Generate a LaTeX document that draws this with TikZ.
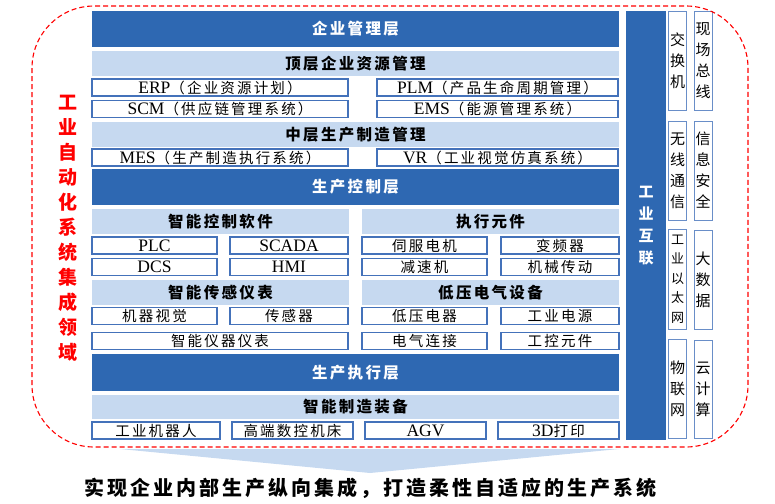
\documentclass[tikz,border=0pt]{standalone}
\usepackage{fontspec}
\setmainfont{Noto Sans CJK SC}[LetterSpace=15]
\newfontfamily\tnr{Liberation Serif}
\newcommand{\eng}[1]{{\tnr\fontsize{17.5}{17.5}\selectfont #1}}
\definecolor{darkblue}{RGB}{46,104,178}
\definecolor{lightblue}{RGB}{198,217,240}
\definecolor{boxblue}{RGB}{68,114,186}

\begin{document}
\begin{tikzpicture}[x=1pt,y=-1pt]
  \tikzset{
    band/.style={fill=darkblue,text=white,inner sep=0pt,minimum width=527pt,minimum height=36pt,font=\bfseries\fontsize{15.5}{16}\selectfont},
    head/.style={fill=lightblue,inner sep=0pt,minimum height=25pt,font=\bfseries\fontsize{15.5}{16}\selectfont},
    item/.style={draw=boxblue,fill=white,line width=1.2pt,inner sep=0pt,minimum height=17pt,font=\fontsize{14.5}{16}\selectfont},
    side/.style={draw=boxblue!80,fill=white,line width=1pt,inner sep=0pt,minimum width=18pt,align=center,font=\fontsize{15}{21}\selectfont},
  }
\useasboundingbox (0,0) rectangle (775,503);
% enterprise management
\node[band] (entlayer) at (355.5,29) {企业管理层};
\node[head,minimum width=527pt] (tophead) at (355.5,63.5) {顶层企业资源管理};
\node[item,minimum width=256pt] (erp) at (220,87.5) {\eng{ERP}（企业资源计划）};
\node[item,minimum width=241pt] (plm) at (497.5,87.5) {\eng{PLM}（产品生命周期管理）};
\node[item,minimum width=256pt] (scm) at (220,109) {\eng{SCM}（供应链管理系统）};
\node[item,minimum width=241pt] (ems) at (497.5,109) {\eng{EMS}（能源管理系统）};
\node[head,minimum width=527pt] (midhead) at (355.5,134.5) {中层生产制造管理};
\node[item,minimum width=256pt] (mes) at (220,157.5) {\eng{MES}（生产制造执行系统）};
\node[item,minimum width=241pt] (vr) at (497.5,157.5) {\eng{VR}（工业视觉仿真系统）};
% production control
\node[band] (ctrllayer) at (355.5,187) {生产控制层};
\node[head,minimum width=257pt] (softhead) at (220.5,221.5) {智能控制软件};
\node[head,minimum width=257pt] (acthead) at (490.5,221.5) {执行元件};
\node[item,minimum width=125pt] (plc) at (154.5,245.5) {\eng{PLC}};
\node[item,minimum width=118pt] (scada) at (289,245.5) {\eng{SCADA}};
\node[item,minimum width=125pt] (servo) at (424.5,245.5) {伺服电机};
\node[item,minimum width=118pt] (vfd) at (560,245.5) {变频器};
\node[item,minimum width=125pt] (dcs) at (154.5,267) {\eng{DCS}};
\node[item,minimum width=118pt] (hmi) at (289,267) {\eng{HMI}};
\node[item,minimum width=125pt] (reducer) at (424.5,267) {减速机};
\node[item,minimum width=118pt] (gearing) at (560,267) {机械传动};
\node[head,minimum width=257pt] (sensehead) at (220.5,292.5) {智能传感仪表};
\node[head,minimum width=257pt] (lvhead) at (490.5,292.5) {低压电气设备};
\node[item,minimum width=125pt] (vision) at (154.5,316) {机器视觉};
\node[item,minimum width=118pt] (sensor) at (289,316) {传感器};
\node[item,minimum width=125pt] (lvapp) at (424.5,316) {低压电器};
\node[item,minimum width=118pt] (power) at (560,316) {工业电源};
\node[item,minimum width=256pt] (instr) at (220,341) {智能仪器仪表};
\node[item,minimum width=125pt] (wiring) at (424.5,341) {电气连接};
\node[item,minimum width=118pt] (ctrlparts) at (560,341) {工控元件};
% production execution
\node[band,minimum height=37pt] (execlayer) at (355.5,372.5) {生产执行层};
\node[head,minimum width=527pt,minimum height=24pt] (equiphead) at (355.5,407) {智能制造装备};
\node[item,minimum width=128pt] (robot) at (156,430.5) {工业机器人};
\node[item,minimum width=121pt] (cnc) at (292.5,430.5) {高端数控机床};
\node[item,minimum width=121pt] (agv) at (425.5,430.5) {\eng{AGV}};
\node[item,minimum width=121pt] (print3d) at (558.5,430.5) {\eng{3D}打印};
% industrial interconnection
\node[band,minimum width=40pt,minimum height=429pt,align=center,font=\bfseries\fontsize{15}{22}\selectfont] (iiot) at (646,225.5) {工\\业\\互\\联};
\node[side,minimum height=98pt] (switch) at (677.5,61) {交\\换\\机};
\node[side,minimum height=99pt] (wireless) at (677.5,170.5) {无\\线\\通\\信};
\node[side,minimum height=100pt,font=\fontsize{13}{19.5}\selectfont] (ethernet) at (677.5,279) {工\\业\\以\\太\\网};
\node[side,minimum height=99pt] (iot) at (677.5,388.5) {物\\联\\网};
\node[side,minimum height=98pt] (fieldbus) at (703,61) {现\\场\\总\\线};
\node[side,minimum height=99pt] (security) at (703,170.5) {信\\息\\安\\全};
\node[side,minimum height=99pt] (bigdata) at (703,279.5) {大\\数\\据};
\node[side,minimum height=98pt] (cloud) at (703,389) {云\\计\\算};
% integration domain
\draw[red,dash pattern=on 5pt off 3pt,line width=1.1pt,rounded corners=62pt] (32,6) rectangle (748,447);
\node[text=red,align=center,font=\bfseries\fontsize{19}{25}\selectfont] (domain) at (68,228) {工\\业\\自\\动\\化\\系\\统\\集\\成\\领\\域};
\fill[lightblue] (120,449) -- (619,449) -- (370,473) -- cycle;
\node[font=\bfseries\fontsize{20}{20}\selectfont] (goal) at (370,488) {实现企业内部生产纵向集成，打造柔性自适应的生产系统};
\end{tikzpicture}
\end{document}
